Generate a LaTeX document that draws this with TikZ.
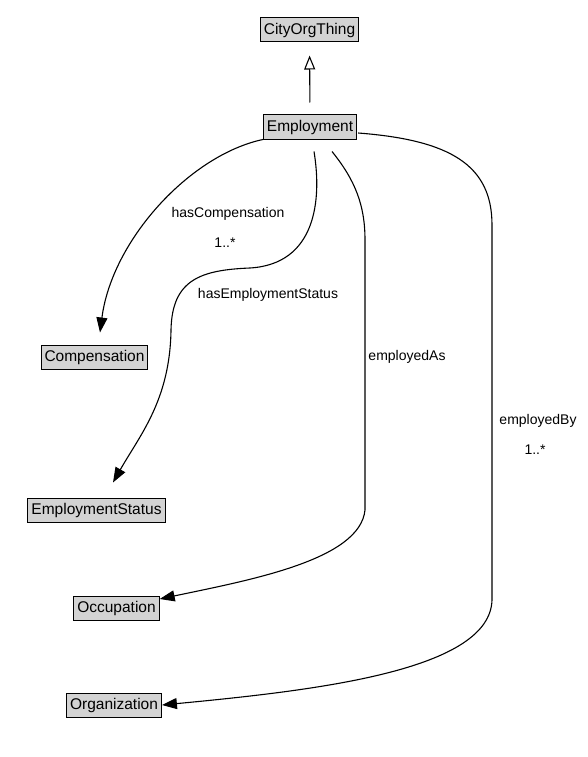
\documentclass[tikz,border=0pt]{standalone}
\usepackage{fontspec}
\setmainfont{Liberation Sans}
\usetikzlibrary{arrows.meta,calc}
\definecolor{boxgray}{RGB}{211,211,211}
\tikzset{
  cls/.style={draw=black, fill=boxgray, line width=1pt, inner xsep=3.5pt, inner ysep=0pt,
    minimum height=24pt, font=\fontsize{15.5}{18}\selectfont, text height=11.5pt, text depth=3pt},
  lbl/.style={fill=white, inner sep=1.5pt, font=\fontsize{14}{17}\selectfont},
  assoc/.style={line width=1.1pt, -{Triangle[length=15pt,width=11pt]}},
  isa/.style={line width=1.1pt, -{Triangle[open,length=14pt,width=11pt,line width=1.1pt]}}
}
\begin{document}
\begin{tikzpicture}[x=1pt,y=-1pt]
\useasboundingbox[fill=white] (0,0) rectangle (587,757);
\node[cls] (city) at (309.5,30) {CityOrgThing};
\node[cls] (emp)  at (310,127) {Employment};
\node[cls] (comp) at (94.5,357) {Compensation};
\node[cls] (stat) at (96.5,510) {EmploymentStatus};
\node[cls] (occ)  at (116.5,608) {Occupation};
\node[cls] (org)  at (114,705) {Organization};

% inheritance
\draw[isa, shorten <=12pt, shorten >=13pt] (emp.north) -- (city.south);

% hasCompensation
\draw[assoc] (emp.south west) .. controls (190,155) and (112,240) .. ($(comp.north)+(5.5,-12)$);
% hasEmploymentStatus
\draw[assoc] ($(emp.south)+(4,12)$) .. controls (322,200) and (316,264) .. (250,268)
  .. controls (200,270) and (172,280) .. (171,330)
  .. controls (170,400) and (140,435) .. ($(stat.north)+(16.5,-15)$);
% employedAs
\draw[assoc] ($(emp.south)+(22,12)$) .. controls (355,180) and (365,205) .. (365,240)
  -- (365,510) .. controls (360,560) and (250,580) .. ($(occ.east)+(0,-9)$);
% employedBy
\draw[assoc] ($(emp.east)+(1,6)$) .. controls (450,140) and (492,165) .. (492,225)
  -- (492,600) .. controls (490,670) and (320,690) .. (org.east);

% labels
\node[lbl] (lcomp) at (228,214) {hasCompensation};
\node[lbl] (mcomp) at (225,243) {1..*};
\node[lbl] (lstat) at (268,295) {hasEmploymentStatus};
\node[lbl] (las)   at (407,357) {employedAs};
\node[lbl] (lby)   at (538,421) {employedBy};
\node[lbl] (mby)   at (535,450) {1..*};
\end{tikzpicture}
\end{document}
